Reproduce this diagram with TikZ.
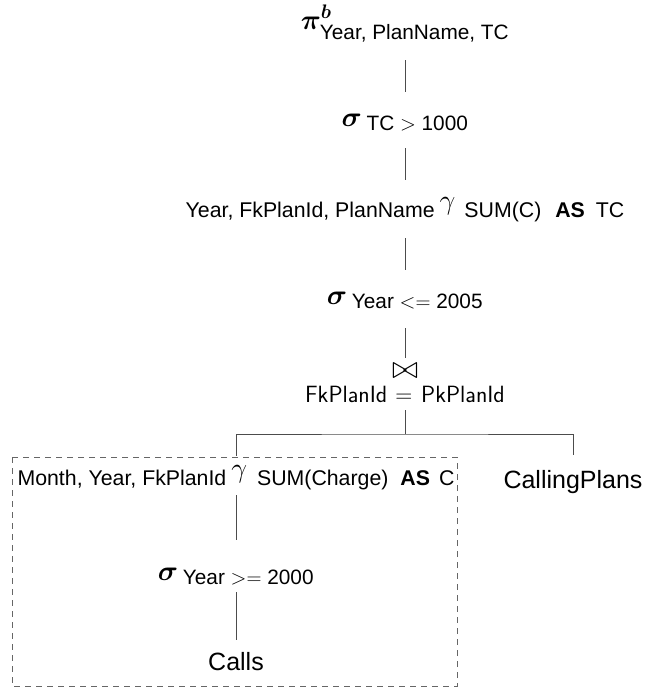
\RequirePackage{fix-cm}
\documentclass[tikz,border=0pt]{standalone}
\usepackage{amsmath}
\usepackage{bm}
\usepackage{fontspec}
\setmainfont{Liberation Sans}
\usetikzlibrary{calc}
\newcommand\subf{\fontsize{20.8}{24}\selectfont}
\newcommand\gsubf{\fontsize{21.3}{24}\selectfont}
\newcommand\gam{\raisebox{8pt}{\fontsize{28}{32}\selectfont$\gamma$}}
\begin{document}
\begin{tikzpicture}[x=1pt,y=-1pt,
  op/.style={anchor=base, inner sep=0pt, font=\fontsize{28}{32}\selectfont},
  rel/.style={anchor=base, inner sep=0pt, font=\fontsize{25}{30}\selectfont},
  joinlabel/.style={anchor=base, inner sep=0pt, font=\fontsize{23.5}{27}\selectfont\sffamily},
  edge/.style={draw=black!70, line width=0.9pt},
  group/.style={draw=black!60, line width=0.8pt, dash pattern=on 6pt off 5pt}]
\useasboundingbox (0,0) rectangle (652,688);
\node[op, text height=20pt, text depth=31pt] (pi) at (405,29)
  {$\bm{\pi}^{\bm{b}}_{\lower4pt\hbox{\subf Year, PlanName, TC}}$};
\node[op, text height=34pt, text depth=22pt] (sig1) at (405,126)
  {$\bm{\sigma}_{\hbox{\subf\ TC\ $>$\ 1000}}$};
\node[rel, text height=37pt, text depth=21pt] (gam1) at (405,217)
  {\gsubf Year, FkPlanId, PlanName\hspace{5pt}\gam\hspace{9pt}SUM(C)\hspace{14pt}\textbf{AS}\hspace{11pt}TC};
\node[op, text height=34pt, text depth=24pt] (sig2) at (405,304)
  {$\bm{\sigma}_{\hbox{\subf\ Year\ $<=$\ 2005}}$};
\node[op, font=\fontsize{32}{34}\selectfont, text height=20pt, text depth=1pt] (join) at (405,378) {$\bowtie$};
\node[joinlabel, text height=14pt, text depth=8pt] (joinlab) at (405,402) {FkPlanId\hspace{8pt}$=$\hspace{9pt}PkPlanId};
\coordinate (split) at (405,434);
\node[rel, text height=29pt, text depth=10pt] (gam2) at (236,485)
  {\gsubf Month, Year, FkPlanId\hspace{5pt}\gam\hspace{10pt}SUM(Charge)\hspace{12pt}\textbf{AS}\hspace{9pt}C};
\node[op, text height=40pt, text depth=12pt] (sig3) at (236,580)
  {$\bm{\sigma}_{\hbox{\subf\ Year\ $>=$\ 2000}}$};
\node[rel, text height=30pt, text depth=6pt] (calls) at (236,670) {Calls};
\node[rel, text height=33pt, text depth=6pt] (cp) at (573,488) {CallingPlans};
\draw[edge] (pi) -- (sig1);
\draw[edge] (sig1) -- (gam1);
\draw[edge] (gam1) -- (sig2);
\draw[edge] (sig2) -- (join);
\draw[edge] (joinlab) -- (split);
\draw[edge] (gam2) |- (split) -| (cp);
\draw[edge] (gam2) -- (sig3);
\draw[edge] (sig3) -- (calls);
\draw[group] (12,457) rectangle (457,686);
\end{tikzpicture}
\end{document}
